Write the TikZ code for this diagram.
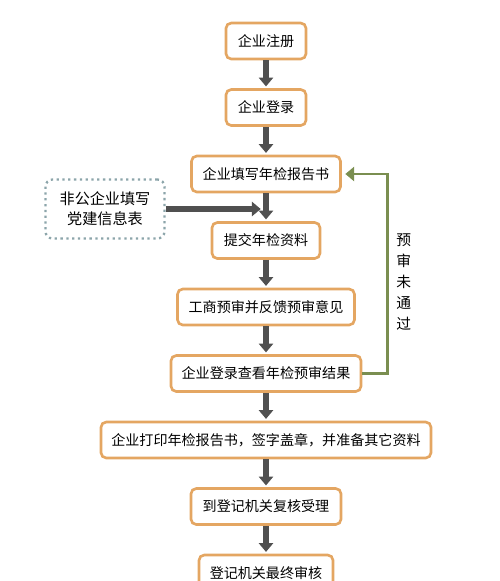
\documentclass[tikz,border=0pt]{standalone}
\usepackage{fontspec}
\newfontfamily\cjk{Noto Sans CJK SC}
\usepackage{xcolor}
\usepackage{tikz}
\usetikzlibrary{shapes, arrows.meta, positioning, calc}

\definecolor{boxorange}{RGB}{228,166,98}
\definecolor{arrowgray}{RGB}{80,80,80}
\definecolor{backgreen}{RGB}{122,142,80}
\definecolor{notegray}{RGB}{140,165,170}

\begin{document}
\begin{tikzpicture}[
    node distance=1.33cm,
    font=\cjk\fontsize{8}{10}\selectfont,
    block/.style={
        rectangle,
        draw=boxorange,
        line width=1.5pt,
        fill=white,
        rounded corners=3pt,
        minimum height=0.72cm,
        inner xsep=4pt
    },
    note/.style={
        rectangle,
        draw=notegray,
        dotted,
        line width=1.3pt,
        rounded corners=4pt,
        minimum width=2.38cm,
        minimum height=1.18cm,
        align=center,
        font=\cjk\fontsize{8.6}{11.5}\selectfont
    },
    line/.style={
        draw=arrowgray,
        line width=3pt,
        -{Triangle[width=8pt,length=5pt]},
        shorten >=1pt
    },
    back/.style={
        draw=backgreen,
        line width=1.6pt,
        -{Triangle[width=8pt,length=5pt]},
        shorten >=2pt
    }
]
\useasboundingbox (0,0) rectangle (10,-11.62);

% Nodes
\node [block, minimum width=1.6cm] (register) at (5.32,-0.82) {企业注册};
\node [block, below of=register, minimum width=1.6cm] (login) {企业登录};
\node [block, below of=login, minimum width=2.98cm] (write) {企业填写年检报告书};
\node [block, below of=write, minimum width=2.16cm] (submit) {提交年检资料};
\node [block, below of=submit, minimum width=3.54cm] (precheck) {工商预审并反馈预审意见};
\node [block, below of=precheck, minimum width=3.8cm] (result) {企业登录查看年检预审结果};
\node [block, below of=result, minimum width=6.6cm] (print) {企业打印年检报告书，签字盖章，并准备其它资料};
\node [block, below of=print, minimum width=3.0cm] (accept) {到登记机关复核受理};
\node [block, below of=accept, minimum width=2.68cm] (final) {登记机关最终审核};
% Side note, between write and submit
\node [note, below of=write, xshift=-3.22cm, node distance=0.7cm] (party) {非公企业填写\\党建信息表};

% Paths
\path [line] (register) -- (login);
\path [line] (login) -- (write);
\path [line] (write) -- (submit);
\path [line] (submit) -- (precheck);
\path [line] (precheck) -- (result);
\path [line] (result) -- (print);
\path [line] (print) -- (accept);
\path [line] (accept) -- (final);
\path [line, shorten >=3pt] (party.east) -- (party.east -| write.south);
% Back loop when the pre-check fails
\path [back] (result.east) -- ++(0.5,0) |- node [pos=0.23, right, align=center, font=\cjk\fontsize{8.4}{12}\selectfont, xshift=1pt] {预\\审\\未\\通\\过} (write.east);

\end{tikzpicture}
\end{document}
